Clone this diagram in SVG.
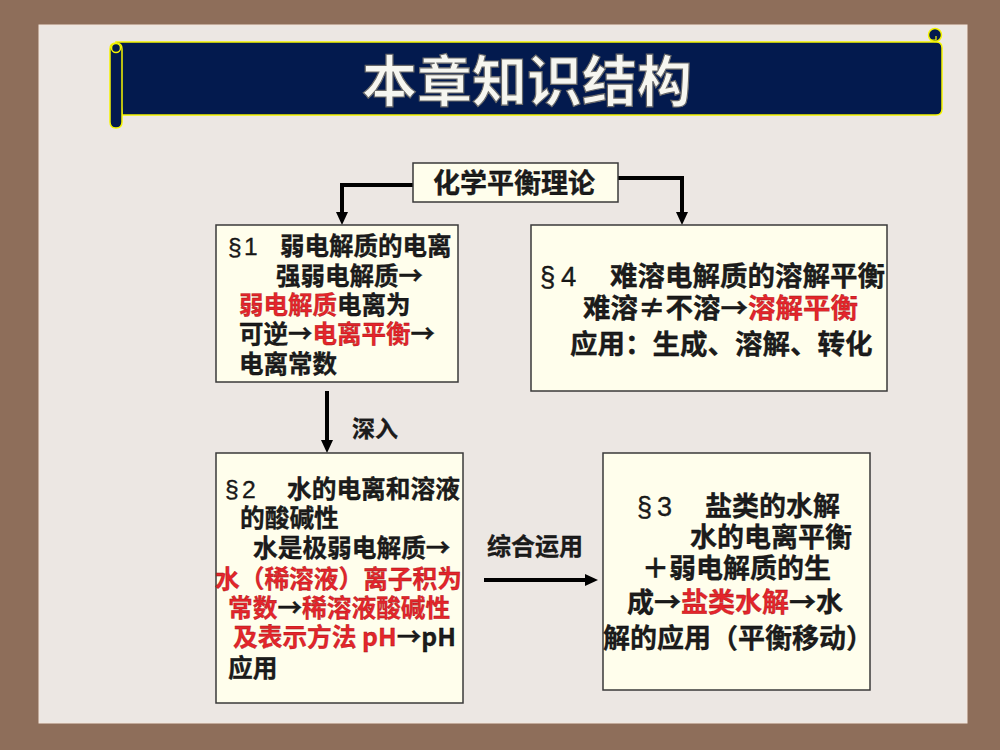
<svg xmlns="http://www.w3.org/2000/svg" width="1000" height="750" viewBox="0 0 1000 750">
<style>
.cn{font-family:"Noto Sans CJK SC","Noto Sans",sans-serif;font-weight:bold;fill:#1c1c1c;stroke:#000;stroke-width:0.3}
.lat{font-family:"Liberation Sans",Arial,sans-serif;font-weight:normal}
.r{fill:#E4252B;stroke:#9a1010}
.box{fill:#FFFEEC;stroke:#3a3a3a;stroke-width:1.5}
.conn{fill:none;stroke:#000;stroke-width:4;stroke-linejoin:miter}
.ban{fill:#031A4E;stroke:#F5F500;stroke-width:1.5}
</style>
<defs>
<marker id="ah" viewBox="0 0 13 12" refX="0" refY="6" markerWidth="13" markerHeight="12" markerUnits="userSpaceOnUse" orient="auto">
<path d="M0,0 L13,6 L0,12 Z" fill="#000"/>
</marker>
</defs>
<rect x="0" y="0" width="1000" height="750" fill="#8E6E5A"/>
<rect x="39" y="25" width="928" height="698" fill="#ECE7E3" stroke="#F4E6DC" stroke-width="1"/>

<g id="banner">
<path class="ban" d="M116,42 H936 Q942,42 942,48 V109 Q942,115 936,115 H122 Z"/>
<path class="ban" d="M116,43 Q110,43 110,49 V122 Q110,128 116,128 Q122,128 122,122 V49 Q122,43 116,43 Z"/>
<circle cx="116" cy="48" r="4.5" fill="#031A4E" stroke="#F5F500" stroke-width="1.5"/>
<circle cx="935" cy="35" r="6.5" fill="#031A4E" stroke="#F5F500" stroke-width="1.5"/>
<path d="M930,40 H936 V36" fill="none" stroke="#F5F500" stroke-width="1.2"/>
<text x="527" y="101" text-anchor="middle" font-family="'Noto Sans CJK SC',sans-serif" font-size="55" font-weight="bold" fill="#F6F6F0" stroke="#6a6a6a" stroke-width="1.2">本章知识结构</text>
</g>

<g id="connectors">
<path class="conn" d="M413,185 H342 V212" marker-end="url(#ah)"/>
<path class="conn" d="M618,178 H682 V212" marker-end="url(#ah)"/>
<path class="conn" d="M327,391 V440" marker-end="url(#ah)"/>
<path class="conn" d="M484,580 H585" marker-end="url(#ah)"/>
<text class="cn" x="352" y="437" font-size="23">深入</text>
<text class="cn" x="487" y="555" font-size="24">综合运用</text>
</g>

<g id="n0">
<rect class="box" x="413" y="163" width="205" height="39"/>
<text class="cn" x="433" y="193" font-size="27">化学平衡理论</text>
</g>

<g id="n1">
<rect class="box" x="216" y="225" width="242" height="157"/>
<text class="cn" font-size="24.5">
<tspan class="lat" x="228" y="255">§</tspan><tspan class="lat" x="244" y="255">1</tspan><tspan x="280" y="255">弱电解质的电离</tspan>
<tspan x="276" y="285">强弱电解质→</tspan>
<tspan x="239" y="314" class="r">弱电解质</tspan><tspan>电离为</tspan>
<tspan x="239" y="343">可逆→</tspan><tspan class="r">电离平衡</tspan><tspan>→</tspan>
<tspan x="239" y="373">电离常数</tspan>
</text>
</g>

<g id="n4">
<rect class="box" x="531" y="225" width="356" height="166"/>
<text class="cn" font-size="27.5">
<tspan class="lat" x="540" y="286">§</tspan><tspan class="lat" x="561" y="286">4</tspan><tspan x="610" y="286">难溶电解质的溶解平衡</tspan>
<tspan x="583" y="318">难溶≠不溶→</tspan><tspan class="r">溶解平衡</tspan>
<tspan x="570" y="354">应用：生成、溶解、转化</tspan>
</text>
</g>

<g id="n2">
<rect class="box" x="216" y="453" width="247" height="250"/>
<text class="cn" font-size="24.7">
<tspan class="lat" x="225" y="498">§</tspan><tspan class="lat" x="242" y="498">2</tspan><tspan x="287" y="498">水的电离和溶液</tspan>
<tspan x="240" y="527">的酸碱性</tspan>
<tspan x="253" y="557">水是极弱电解质→</tspan>
<tspan x="215" y="588" class="r">水（稀溶液）离子积为</tspan>
<tspan x="228" y="617" class="r">常数</tspan><tspan>→</tspan><tspan class="r">稀溶液酸碱性</tspan>
<tspan x="233" y="646" class="r">及表示方法 pH</tspan><tspan>→pH</tspan>
<tspan x="228" y="677">应用</tspan>
</text>
</g>

<g id="n3">
<rect class="box" x="603" y="453" width="267" height="237"/>
<text class="cn" font-size="27">
<tspan class="lat" x="637" y="516">§</tspan><tspan class="lat" x="657" y="516">3</tspan><tspan x="705" y="516">盐类的水解</tspan>
<tspan x="690" y="547">水的电离平衡</tspan>
<tspan x="642" y="578">＋弱电解质的生</tspan>
<tspan x="627" y="612">成→</tspan><tspan class="r">盐类水解</tspan><tspan>→水</tspan>
<tspan x="603" y="648">解的应用（平衡移动）</tspan>
</text>
</g>
</svg>
